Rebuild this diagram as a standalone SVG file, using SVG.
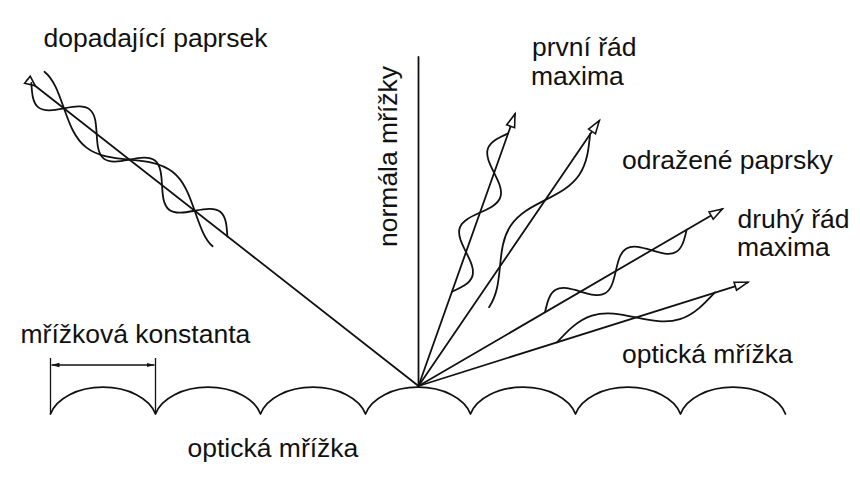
<svg xmlns="http://www.w3.org/2000/svg" width="860" height="497" viewBox="0 0 860 497">
<defs>
<style>
.ln{fill:none;stroke:#111;stroke-width:1.8;stroke-linecap:round;stroke-linejoin:round}
.wv{fill:none;stroke:#111;stroke-width:1.8;stroke-linecap:round}
.thin{fill:none;stroke:#111;stroke-width:1.3}
.lbl{font-family:"Liberation Sans",Arial,Helvetica,sans-serif;font-size:26.5px;fill:#111}
</style>
<marker id="ah" markerUnits="userSpaceOnUse" viewBox="-2 -7 17 14" markerWidth="17" markerHeight="14" refX="13" refY="0" orient="auto" overflow="visible">
<path d="M0,-4.2 L13,0 L0,4.2 Z" fill="#fff" stroke="#111" stroke-width="1.6"/>
</marker>
<marker id="ahs" markerUnits="userSpaceOnUse" viewBox="-2 -7 14 14" markerWidth="14" markerHeight="14" refX="0" refY="0" orient="auto" overflow="visible">
<path d="M0,-4.5 L10,0 L0,4.5 Z" fill="#fff" stroke="#111" stroke-width="1.6"/>
</marker>
<marker id="dim" markerUnits="userSpaceOnUse" viewBox="0 -3 8 6" markerWidth="8" markerHeight="6" refX="8" refY="0" orient="auto-start-reverse">
<path d="M0,-2.2 L8,0 L0,2.2 Z" fill="#111"/>
</marker>
</defs>
<rect width="860" height="497" fill="#fff"/>

<g id="grating">
<path class="ln" d="M50.5,414 A54,35 0 0 1 155.5,414 A54,35 0 0 1 260.5,414 A54,35 0 0 1 365.5,414 A54,35 0 0 1 470.5,414 A54,35 0 0 1 575.5,414 A54,35 0 0 1 680.5,414 A54,35 0 0 1 785.5,414"/>
</g>

<g id="grating-constant">
<line class="thin" x1="50.5" y1="358" x2="50.5" y2="414"/>
<line class="thin" x1="155.5" y1="358" x2="155.5" y2="414"/>
<line class="thin" x1="51.5" y1="365" x2="154.5" y2="365" marker-start="url(#dim)" marker-end="url(#dim)"/>
</g>

<g id="normal">
<line class="ln" x1="418.5" y1="57" x2="418.5" y2="386"/>
</g>

<g id="connectors">
<path class="ln" d="M27.4,79.7 L418.5,386" marker-start="url(#ahs)"/>
<path class="ln" d="M418.5,386 L515,114" marker-end="url(#ah)"/>
<path class="ln" d="M418.5,386 L599.3,120.7" marker-end="url(#ah)"/>
<path class="ln" d="M418.5,386 L722.3,209" marker-end="url(#ah)"/>
<path class="ln" d="M418.5,386 L747.7,282.3" marker-end="url(#ah)"/>
</g>

<g id="waves">
<g transform="translate(64,108.4) rotate(38.07)">
<path class="wv" d="M-41.5,0 c6.77,7.68 13.24,15 20.75,15 s13.98,-7.32 20.75,-15 s13.24,-15 20.75,-15 s13.98,7.32 20.75,15 s13.24,15 20.75,15 s13.98,-7.32 20.75,-15 s13.24,-15 20.75,-15 s13.98,7.32 20.75,15 s13.24,15 20.75,15 s13.98,-7.32 20.75,-15 s13.24,-15 20.75,-15 s13.98,7.32 20.75,15"/>
<path class="wv" d="M-38,-16.8 c12,0 24.47,8.29 38,16.8 s26.48,17 41.5,17 s27.97,-8.29 41.5,-17 s26.48,-17 41.5,-17 s27.97,8.29 41.5,17 s26.48,17 36,16.8"/>
</g>
<g transform="translate(452,291.7) rotate(-70.47)">
<path class="wv" d="M0,0 c6.85,7.17 13.4,14 21,14 s14.15,-6.83 21,-14 s13.4,-14 21,-14 s14.15,6.83 21,14 s13.4,14 21,14 s14.15,-6.83 21,-14 s13.4,-14 21,-14 s14.15,6.83 21,14"/>
</g>
<g transform="translate(590.1,134) rotate(124.27)">
<path class="wv" d="M0,0 c13.04,-7.17 25.52,-14 40,-14 s26.96,6.83 40,14 s25.52,14 40,14 s26.96,-6.83 40,-14 s25.52,-14 40,-14"/>
</g>
<g transform="translate(545,312.2) rotate(-30.25)">
<path class="wv" d="M0,0 c6.69,-7.17 13.08,-14 20.5,-14 s13.81,6.83 20.5,14 s13.08,14 20.5,14 s13.81,-6.83 20.5,-14 s13.08,-14 20.5,-14 s13.81,6.83 20.5,14 s13.08,14 20.5,14 s13.81,-6.83 20.5,-14"/>
</g>
<g transform="translate(557,342.3) rotate(-17.52)">
<path class="wv" d="M0,0 c13.5,-7.68 26.42,-15 41.4,-15 s27.9,7.32 41.4,15 s26.42,15 41.4,15 s27.9,-7.32 41.4,-15"/>
</g>
</g>

<g id="labels">
<text id="lbl-incident" class="lbl" x="43.5" y="46.5">dopadající paprsek</text>
<text id="lbl-normal" class="lbl" transform="translate(397,247) rotate(-90)">normála mřížky</text>
<text id="lbl-first" class="lbl"><tspan x="532" y="55.5">první řád</tspan><tspan x="531" y="84.5">maxima</tspan></text>
<text id="lbl-reflected" class="lbl" x="622" y="168.5">odražené paprsky</text>
<text id="lbl-second" class="lbl"><tspan x="737.5" y="227.5">druhý řád</tspan><tspan x="737" y="255.5">maxima</tspan></text>
<text id="lbl-grating-right" class="lbl" x="622" y="362.5">optická mřížka</text>
<text id="lbl-constant" class="lbl" x="20.5" y="342.5">mřížková konstanta</text>
<text id="lbl-grating-bottom" class="lbl" x="187.5" y="457">optická mřížka</text>
</g>
</svg>
